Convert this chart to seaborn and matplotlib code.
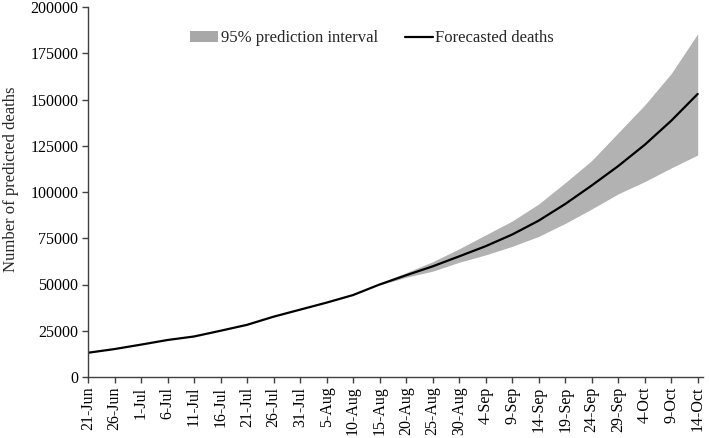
import matplotlib
matplotlib.use("Agg")
import matplotlib.pyplot as plt
import numpy as np
import pandas as pd
import seaborn as sns
from matplotlib.patches import Patch
from matplotlib.lines import Line2D

# ---- data ----
tick_labels = ["21-Jun", "26-Jun", "1-Jul", "6-Jul", "11-Jul", "16-Jul", "21-Jul",
               "26-Jul", "31-Jul", "5-Aug", "10-Aug", "15-Aug", "20-Aug", "25-Aug",
               "30-Aug", "4-Sep", "9-Sep", "14-Sep", "19-Sep", "24-Sep", "29-Sep",
               "4-Oct", "9-Oct", "14-Oct"]
day_offset = [0, 5, 10, 15, 20, 25, 30, 35, 40, 45, 50, 55, 60, 65, 70, 75, 80,
              85, 90, 95, 100, 105, 110, 115]
forecast = [13100, 15100, 17500, 20000, 21900, 25000, 28200, 32600, 36400, 40200,
            44300, 50000, 55000, 59800, 65200, 70700, 77000, 84500, 93500, 103500,
            114000, 125500, 138500, 153000]

band_offset = [55, 60, 65, 70, 75, 80, 85, 90, 95, 100, 105, 110, 115]
band_upper = [50500, 56400, 62300, 69300, 76800, 84300, 93500, 105000, 117000,
              132000, 147000, 164000, 185500]
band_lower = [49700, 53900, 57200, 62000, 66000, 70600, 76000, 83000, 90800,
              99000, 105600, 113000, 120000]

y_ticks = [0, 25000, 50000, 75000, 100000, 125000, 150000, 175000, 200000]

df = pd.DataFrame({"day": day_offset, "deaths": forecast})

# ---- style ----
sns.set_theme(style="ticks")
plt.rcParams["font.family"] = ["Liberation Serif", "DejaVu Serif"]

fig = plt.figure(figsize=(7.09, 4.38), dpi=100)
ax = fig.add_axes([88 / 709, 1 - 377 / 438, (703 - 88) / 709, 370 / 438])

band_color = "#b2b2b2"
ax.fill_between(band_offset, band_lower, band_upper, color=band_color, linewidth=0)
sns.lineplot(data=df, x="day", y="deaths", ax=ax, color="black", linewidth=1.6)

ax.set_xlim(0, 116)
ax.set_ylim(0, 200000)
ax.set_xticks(day_offset)
ax.set_xticklabels(tick_labels, rotation=90, fontsize=11.5)
ax.set_yticks(y_ticks)
ax.set_yticklabels([str(v) for v in y_ticks], fontsize=11.5)
ax.set_xlabel("")
ax.set_ylabel("Number of predicted deaths", fontsize=12)
ax.yaxis.set_label_coords(-0.113, 0.535)

for s in ["top", "right"]:
    ax.spines[s].set_visible(False)
for s in ["left", "bottom"]:
    ax.spines[s].set_color("#404040")
    ax.spines[s].set_linewidth(1.0)
ax.tick_params(axis="both", direction="out", length=4, width=1.0, color="#404040",
               pad=3, labelcolor="black")

handles = [Patch(facecolor="#a8a8a8", edgecolor="none"),
           Line2D([0], [0], color="black", linewidth=1.6)]
ax.legend(handles, ["95% prediction interval", "Forecasted deaths"], ncol=2,
          frameon=False, loc="center", bbox_to_anchor=(0.462, 0.915),
          fontsize=12, handlelength=1.7, handletextpad=0.15, columnspacing=1.6,
          handleheight=0.7)

fig.savefig("out.png", dpi=100)
